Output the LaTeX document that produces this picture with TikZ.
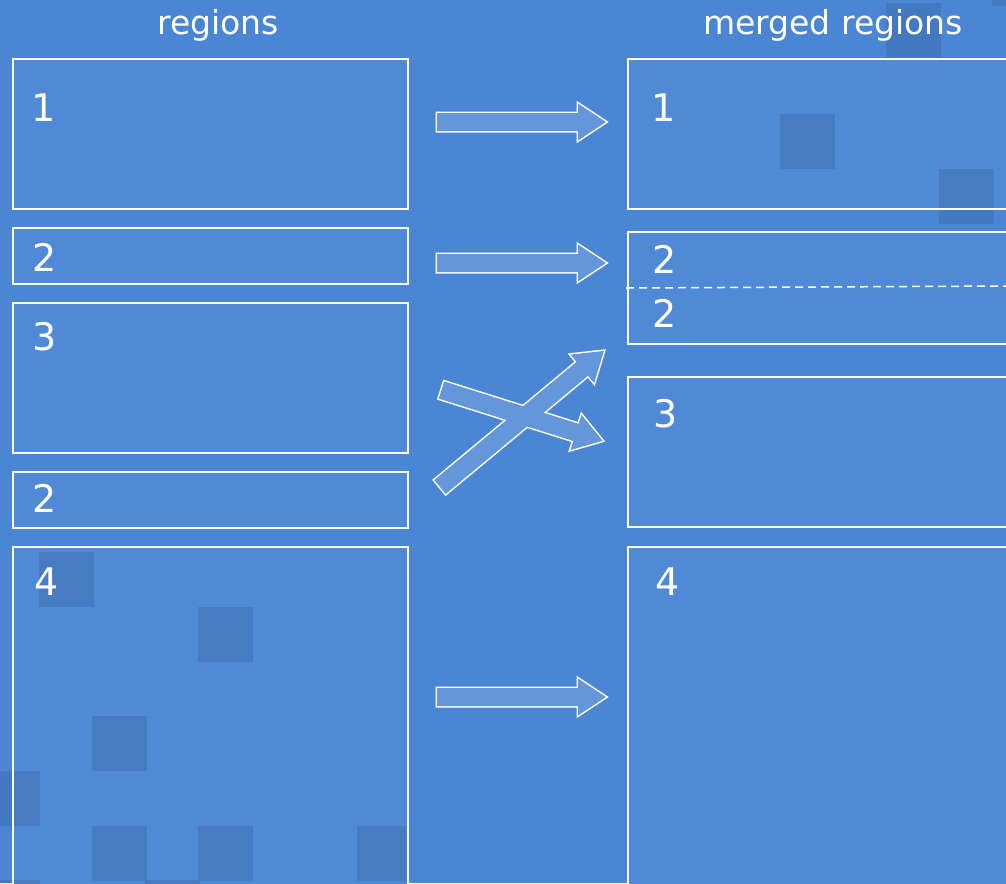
\documentclass[tikz,border=0pt]{standalone}
\usepackage{fontspec}
\setmainfont{DejaVu Sans}

\definecolor{bgblue}{RGB}{74,134,212}
\definecolor{boxblue}{RGB}{80,137,214}
\definecolor{arrowblue}{RGB}{100,150,218}

\tikzset{
	pics/fatarrow/.style={code={
		\path[pic actions] (0,-9) -- (#1-28,-9) -- (#1-28,-18.5) -- (#1,0)
			-- (#1-28,18.5) -- (#1-28,9) -- (0,9) -- cycle;
	}}
}

\begin{document}
\begin{tikzpicture}[x=1pt, y=-1pt,
	boxfill/.style={fill=boxblue},
	boxedge/.style={draw=white, line width=2pt},
	shadesq/.style={fill=black, fill opacity=0.09},
	outline/.style={draw=white, line width=3pt},
	body/.style={fill=arrowblue},
	num/.style={anchor=north west, inner sep=0pt, text=white, font=\fontsize{38}{40}\selectfont},
	title/.style={anchor=base, inner sep=0pt, text=white, font=\fontsize{33}{36}\selectfont}]
				\clip (0,0) rectangle (1006,883);
				\fill[bgblue] (0,0) rectangle (1006,883);
				
				% region boxes, left and right column
				\foreach \t/\b in {59/209, 228/284, 303/453, 472/528, 547/900}
					\fill[boxfill] (13,\t) rectangle (408,\b);
				\foreach \t/\b in {59/209, 232/344, 377/527, 547/900}
					\fill[boxfill] (628,\t) rectangle (1020,\b);
				
				% faint squares in the back
				\foreach \x/\y in {39/552, 198/607, 92/716, -15/771, 92/826, 198/826,
						145/880, -15/880, 886/3, 992/-49, 780/114, 939/169}
					\fill[shadesq] (\x,\y) rectangle ++(55,55);
				\fill[shadesq] (357,826) rectangle (408,881);
				
				\foreach \t/\b in {59/209, 228/284, 303/453, 472/528, 547/900}
					\draw[boxedge] (13,\t) rectangle (408,\b);
				\foreach \t/\b in {59/209, 232/344, 377/527, 547/900}
					\draw[boxedge] (628,\t) rectangle (1020,\b);
				\draw[white, line width=1.5pt, dash pattern=on 8pt off 5pt] (626,288) -- (1006,286);
				
				\node[title] (lefttitle) at (218,35) {regions};
				\node[title] (righttitle) at (833,35) {merged regions};
				
				\node[num] (l1) at (31,94) {1};
				\node[num] (l2) at (32,243) {2};
				\node[num] (l3) at (32,322) {3};
				\node[num] (l2b) at (32,484) {2};
				\node[num] (l4) at (34,568) {4};
				
				\node[num] (r1) at (651,94) {1};
				\node[num] (r2) at (652,245) {2};
				\node[num] (r2b) at (652,299) {2};
				\node[num] (r3) at (653,399) {3};
				\node[num] (r4) at (655,568) {4};
				
				% block arrows: white outline first, then the fill on top
				\pic[outline] at (437,122) {fatarrow=169};
				\pic[outline] at (437,263) {fatarrow=169};
				\pic[outline] at (437,697) {fatarrow=169};
				\pic[outline, rotate=39.7] at (440,487) {fatarrow=213};
				\pic[outline, rotate=-17.5] at (441.5,390) {fatarrow=169};
				
				\pic[body] at (437,122) {fatarrow=169};
				\pic[body] at (437,263) {fatarrow=169};
				\pic[body] at (437,697) {fatarrow=169};
				\pic[body, rotate=39.7] at (440,487) {fatarrow=213};
				\pic[body, rotate=-17.5] at (441.5,390) {fatarrow=169};
\end{tikzpicture}
\end{document}
